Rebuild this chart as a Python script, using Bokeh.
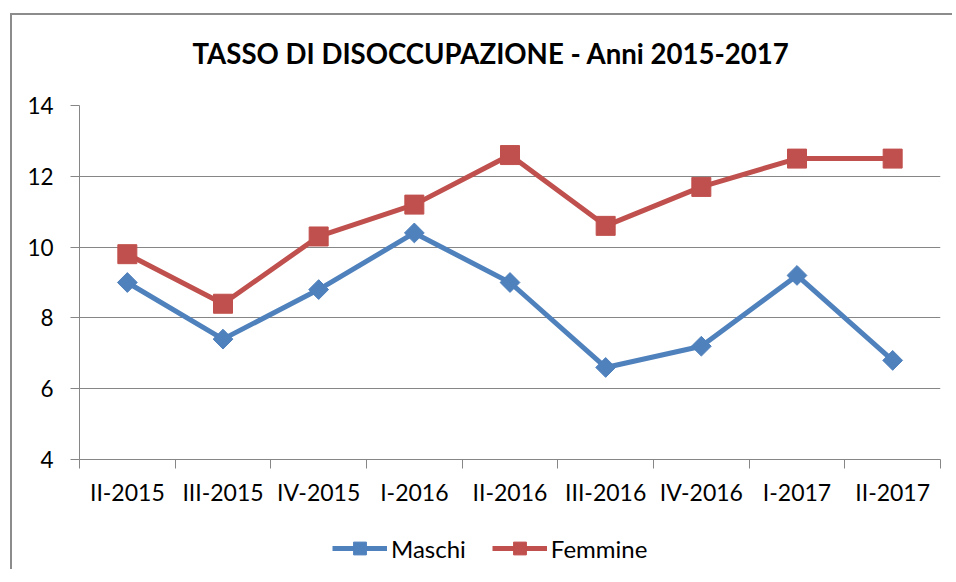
from bokeh.plotting import figure
from bokeh.layouts import column
from bokeh.models import Range1d, FixedTicker, Legend, LegendItem, Title
from bokeh.embed import file_html
from bokeh.resources import INLINE
import math

categories = ["II-2015", "III-2015", "IV-2015", "I-2016", "II-2016",
              "III-2016", "IV-2016", "I-2017", "II-2017"]
maschi = [9.0, 7.4, 8.8, 10.4, 9.0, 6.6, 7.2, 9.2, 6.8]
femmine = [9.8, 8.4, 10.3, 11.2, 12.6, 10.6, 11.7, 12.5, 12.5]
y_ticks = [4, 6, 8, 10, 12, 14]

FONT = "Lato"
BLUE = "#4F81BD"
RED = "#C0504D"
GRAY = "#868686"

xs = [i + 0.5 for i in range(len(categories))]


def strip(height, top):
    f = figure(width=940, height=height, output_backend="svg", toolbar_location=None,
               x_axis_type=None, y_axis_type=None,
               x_range=Range1d(0, 1), y_range=Range1d(0, 1),
               min_border_left=0, min_border_right=0, min_border_top=top,
               min_border_bottom=0)
    f.outline_line_color = None
    f.xgrid.grid_line_color = None
    f.ygrid.grid_line_color = None
    return f


# title strip
pt = strip(60, 54)
t = Title(text="TASSO DI DISOCCUPAZIONE - Anni 2015-2017", align="left",
          vertical_align="bottom",
          text_font=FONT, text_font_size="27.6px", text_font_style="bold",
          text_color="black", standoff=0, offset=113)
pt.add_layout(t, "above")

# main chart
p = figure(width=940, height=454, output_backend="svg", toolbar_location=None,
           x_range=Range1d(0, len(categories)), y_range=Range1d(4, 14),
           min_border_left=67, min_border_right=12, min_border_top=30,
           min_border_bottom=70)
p.outline_line_color = None
p.background_fill_color = "white"
p.border_fill_color = "white"

p.line(xs, maschi, line_color=BLUE, line_width=5)
p.scatter(xs, maschi, marker="square", angle=math.pi / 4, size=14,
          fill_color=BLUE, line_color=BLUE)
p.line(xs, femmine, line_color=RED, line_width=5)
p.scatter(xs, femmine, marker="square", size=19, fill_color=RED, line_color=RED)

# x axis: labels centered on categories, ticks at category boundaries
p.xaxis.ticker = FixedTicker(ticks=xs, minor_ticks=list(range(len(categories) + 1)))
p.xaxis.major_label_overrides = {x: c for x, c in zip(xs, categories)}
p.xaxis.major_tick_out = 0
p.xaxis.major_tick_in = 0
p.xaxis.minor_tick_out = 9
p.xaxis.minor_tick_in = 0
p.xaxis.minor_tick_line_color = GRAY
p.xaxis.axis_line_color = GRAY
p.xaxis.major_label_standoff = 9
p.xaxis.major_label_text_font = FONT
p.xaxis.major_label_text_font_size = "23px"
p.xaxis.major_label_text_color = "black"

p.yaxis.ticker = FixedTicker(ticks=y_ticks, minor_ticks=[])
p.yaxis.major_tick_out = 9
p.yaxis.major_tick_in = 0
p.yaxis.major_tick_line_color = GRAY
p.yaxis.axis_line_color = GRAY
p.yaxis.major_label_standoff = 17
p.yaxis.major_label_text_font = FONT
p.yaxis.major_label_text_font_size = "22.5px"
p.yaxis.major_label_text_color = "black"

p.xgrid.grid_line_color = None
p.ygrid.grid_line_color = GRAY
p.ygrid.grid_line_width = 1

# legend strip below the chart (series drawn out of its visible range, only the legend shows)
pl = strip(40, 0)
lm = pl.line(xs, maschi, line_color=BLUE, line_width=5)
sm = pl.scatter(xs, maschi, marker="square", angle=math.pi / 4,
                fill_color=BLUE, line_color=BLUE)
lf = pl.line(xs, femmine, line_color=RED, line_width=5)
sf = pl.scatter(xs, femmine, marker="square", fill_color=RED, line_color=RED)

legend = Legend(items=[LegendItem(label="Maschi", renderers=[lm, sm]),
                       LegendItem(label="Femmine", renderers=[lf, sf])],
                orientation="horizontal", location=(253, 5),
                label_text_font=FONT, label_text_font_size="24px",
                label_text_color="black", glyph_width=55, glyph_height=32,
                label_standoff=4, spacing=26, padding=0, margin=0,
                border_line_color=None, background_fill_alpha=0)
pl.add_layout(legend, "center")

layout = column(pt, p, pl, spacing=0,
                styles={"position": "relative", "left": "10px", "top": "13px",
                        "border-left": "2px solid #8c8c8c",
                        "border-top": "2px solid #8c8c8c"})

open("out.html", "w").write(file_html(layout, INLINE))
